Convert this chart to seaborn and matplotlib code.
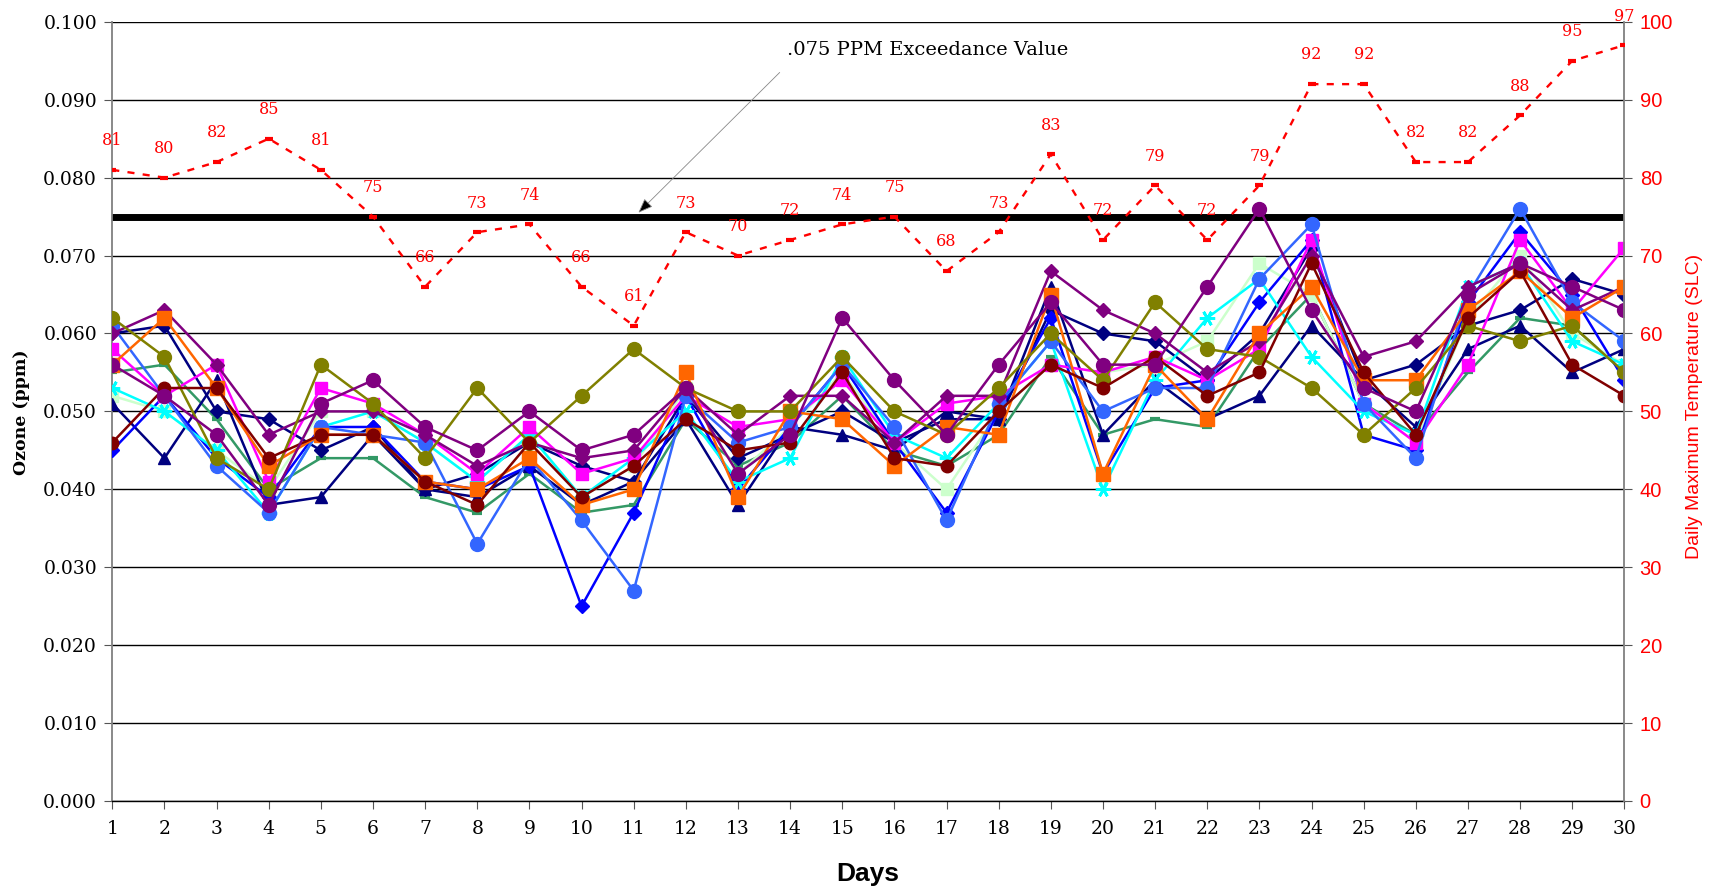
import matplotlib
matplotlib.use("Agg")
import matplotlib.pyplot as plt
from matplotlib.ticker import FormatStrFormatter
import seaborn as sns
import numpy as np

days = list(range(1, 31))

temps = [81, 80, 82, 85, 81, 75, 66, 73, 74, 66, 61, 73, 70, 72, 74,
         75, 68, 73, 83, 72, 79, 72, 79, 92, 92, 82, 82, 88, 95, 97]

threshold = 0.075

navy_diamond = [0.060, 0.061, 0.050, 0.049, 0.045, 0.048, 0.040, 0.042, 0.046, 0.043,
                0.041, 0.052, 0.044, 0.047, 0.050, 0.046, 0.049, 0.049, 0.063, 0.060,
                0.059, 0.054, 0.060, 0.071, 0.054, 0.056, 0.061, 0.063, 0.067, 0.065]
magenta_square = [0.058, 0.052, 0.056, 0.041, 0.053, 0.051, 0.047, 0.042, 0.048, 0.042,
                  0.044, 0.052, 0.048, 0.049, 0.054, 0.046, 0.051, 0.052, 0.056, 0.055,
                  0.057, 0.054, 0.058, 0.072, 0.051, 0.046, 0.056, 0.072, 0.063, 0.071]
navy_triangle = [0.051, 0.044, 0.054, 0.038, 0.039, 0.047, 0.040, 0.039, 0.043, 0.038,
                 0.041, 0.049, 0.038, 0.048, 0.047, 0.045, 0.050, 0.049, 0.066, 0.047,
                 0.054, 0.049, 0.052, 0.061, 0.054, 0.048, 0.058, 0.061, 0.055, 0.058]
cyan_star = [0.053, 0.050, 0.045, 0.037, 0.048, 0.050, 0.046, 0.041, 0.047, 0.039,
             0.044, 0.050, 0.041, 0.044, 0.057, 0.047, 0.044, 0.051, 0.059, 0.040,
             0.054, 0.062, 0.067, 0.057, 0.050, 0.047, 0.066, 0.069, 0.059, 0.056]
purple_circle = [0.056, 0.052, 0.047, 0.038, 0.051, 0.054, 0.048, 0.045, 0.050, 0.045,
                 0.047, 0.053, 0.042, 0.047, 0.062, 0.054, 0.047, 0.056, 0.064, 0.056,
                 0.056, 0.066, 0.076, 0.063, 0.053, 0.050, 0.065, 0.069, 0.066, 0.063]
maroon_circle = [0.046, 0.053, 0.053, 0.044, 0.047, 0.047, 0.041, 0.038, 0.046, 0.039,
                 0.043, 0.049, 0.045, 0.046, 0.055, 0.044, 0.043, 0.050, 0.056, 0.053,
                 0.057, 0.052, 0.055, 0.069, 0.055, 0.047, 0.062, 0.068, 0.056, 0.052]
seagreen_dash = [0.055, 0.056, 0.049, 0.040, 0.044, 0.044, 0.039, 0.037, 0.042, 0.037,
                 0.038, 0.049, 0.043, 0.046, 0.052, 0.045, 0.043, 0.047, 0.057, 0.047,
                 0.049, 0.048, 0.058, 0.065, 0.051, 0.047, 0.055, 0.062, 0.061, 0.055]
blue_diamond = [0.045, 0.052, 0.044, 0.039, 0.048, 0.048, 0.041, 0.040, 0.043, 0.025,
                0.037, 0.052, 0.040, 0.048, 0.056, 0.046, 0.037, 0.050, 0.062, 0.042,
                0.053, 0.054, 0.064, 0.072, 0.047, 0.045, 0.064, 0.073, 0.065, 0.054]
lightgreen_square = [0.052, 0.050, 0.045, 0.040, 0.050, 0.050, 0.046, 0.041, 0.047, 0.039,
                     0.043, 0.053, 0.042, 0.048, 0.055, 0.046, 0.040, 0.050, 0.056, 0.055,
                     0.056, 0.059, 0.069, 0.065, 0.051, 0.046, 0.062, 0.070, 0.060, 0.056]
royalblue_circle = [0.061, 0.052, 0.043, 0.037, 0.048, 0.047, 0.046, 0.033, 0.044, 0.036,
                    0.027, 0.052, 0.046, 0.048, 0.056, 0.048, 0.036, 0.051, 0.059, 0.050,
                    0.053, 0.053, 0.067, 0.074, 0.051, 0.044, 0.065, 0.076, 0.064, 0.059]
purple_diamond = [0.060, 0.063, 0.056, 0.047, 0.050, 0.050, 0.047, 0.043, 0.046, 0.044,
                  0.045, 0.053, 0.047, 0.052, 0.052, 0.046, 0.052, 0.052, 0.068, 0.063,
                  0.060, 0.055, 0.059, 0.070, 0.057, 0.059, 0.066, 0.069, 0.063, 0.066]
olive_circle = [0.062, 0.057, 0.044, 0.040, 0.056, 0.051, 0.044, 0.053, 0.046, 0.052,
                0.058, 0.053, 0.050, 0.050, 0.057, 0.050, 0.047, 0.053, 0.060, 0.054,
                0.064, 0.058, 0.057, 0.053, 0.047, 0.053, 0.061, 0.059, 0.061, 0.055]
orange_square = [0.056, 0.062, 0.053, 0.043, 0.047, 0.047, 0.041, 0.040, 0.044, 0.038,
                 0.040, 0.055, 0.039, 0.050, 0.049, 0.043, 0.048, 0.047, 0.065, 0.042,
                 0.056, 0.049, 0.060, 0.066, 0.054, 0.054, 0.063, 0.068, 0.062, 0.066]

# (values, color, marker, markersize, markeredgewidth)
series = [
    (seagreen_dash, "#339966", "_", 7, 3.0),
    (lightgreen_square, "#CCFFCC", "s", 9, 1.0),
    (navy_triangle, "#000080", "^", 9, 1.0),
    (navy_diamond, "#000080", "D", 7, 1.0),
    (blue_diamond, "#0000FF", "D", 7, 1.0),
    (cyan_star, "#00FFFF", (6, 2, 90), 11, 2.0),
    (magenta_square, "#FF00FF", "s", 9, 1.0),
    (royalblue_circle, "#3366FF", "o", 10, 1.0),
    (purple_diamond, "#800080", "D", 7, 1.0),
    (orange_square, "#FF6600", "s", 10, 1.0),
    (olive_circle, "#808000", "o", 10, 1.0),
    (maroon_circle, "#800000", "o", 9, 1.0),
    (purple_circle, "#800080", "o", 10, 1.0),
]

fig = plt.figure(figsize=(17.09, 8.90), dpi=100)
ax = fig.add_axes([0.0657, 0.1, 0.8848, 0.8755])

# threshold line
sns.lineplot(x=days, y=[threshold] * len(days), ax=ax, color="black", lw=5,
             solid_capstyle="round", zorder=2, legend=False, errorbar=None)

for i, (vals, col, mk, ms, mew) in enumerate(series):
    sns.lineplot(x=days, y=vals, ax=ax, color=col, marker=mk, markersize=ms,
                 mec=col, mfc=col, mew=mew, lw=1.8, zorder=3 + i * 0.01,
                 legend=False, errorbar=None, sort=False)

ax.set_xlim(1, 30)
ax.set_ylim(0, 0.1)
ax.set_yticks(np.arange(0, 0.1001, 0.01))
ax.yaxis.set_major_formatter(FormatStrFormatter('%.3f'))
ax.set_xticks(days)
ax.yaxis.grid(True, color="black", lw=1.0)
ax.xaxis.grid(False)
ax.set_axisbelow(True)
for s in ["top", "right"]:
    ax.spines[s].set_visible(False)
ax.spines["left"].set_color("#808080")
ax.spines["left"].set_linewidth(1.3)
ax.spines["bottom"].set_color("black")
ax.spines["bottom"].set_linewidth(1.0)
ax.tick_params(axis="y", direction="out", length=6, color="#555555", labelsize=13.5, pad=5)
ax.tick_params(axis="x", direction="out", length=6, color="#555555", labelsize=13.5, pad=8)
for lab in ax.get_xticklabels() + ax.get_yticklabels():
    lab.set_fontfamily("DejaVu Serif")
ax.set_xlabel("")
ax.set_ylabel("")

fig.text(0.0125, 0.537, "Ozone (ppm)", rotation=90, ha="center", va="center",
         fontsize=12.5, fontweight="bold", family="DejaVu Serif")
fig.text(0.508, 0.018, "Days", ha="center", va="center", fontsize=19,
         fontweight="bold", family="Liberation Sans")

# secondary axis: temperature
ax2 = ax.twinx()
sns.lineplot(x=days, y=temps, ax=ax2, color="red", lw=1.7, linestyle=(0, (3, 3.5)),
             marker="_", markersize=6, mec="red", mew=3, legend=False,
             errorbar=None, sort=False, zorder=5)
ax2.set_ylim(0, 100)
ax2.set_yticks(np.arange(0, 101, 10))
ax2.set_xlim(1, 30)
for s in ["top", "left", "bottom"]:
    ax2.spines[s].set_visible(False)
ax2.spines["right"].set_color("#808080")
ax2.spines["right"].set_linewidth(1.3)
ax2.tick_params(axis="y", direction="out", length=6, color="#555555",
                labelsize=14.5, labelcolor="red", pad=5)
for lab in ax2.get_yticklabels():
    lab.set_fontfamily("Liberation Sans")
ax2.set_ylabel("")
ax2.grid(False)

for d, t in zip(days, temps):
    ax2.annotate(str(t), xy=(d, t), xytext=(0, 21), textcoords="offset points",
                 ha="center", va="center", color="red", fontsize=11.5,
                 family="DejaVu Serif")

fig.text(0.9915, 0.543, "Daily Maximum Temperature (SLC)", rotation=90,
         ha="center", va="center", fontsize=14, color="red",
         family="Liberation Sans")

# annotation of exceedance line
ax.text(13.94, 0.0964, ".075 PPM Exceedance Value", ha="left", va="center",
        fontsize=14, family="DejaVu Serif", color="black", zorder=10)
ax.annotate("", xy=(11.09, 0.0755), xytext=(13.8, 0.0935),
            arrowprops=dict(arrowstyle="-|>,head_length=0.9,head_width=0.35",
                            color="#999999", fc="black", ec="#888888", lw=0.6,
                            shrinkA=0, shrinkB=0), zorder=10)

fig.savefig("out.png", dpi=100)
